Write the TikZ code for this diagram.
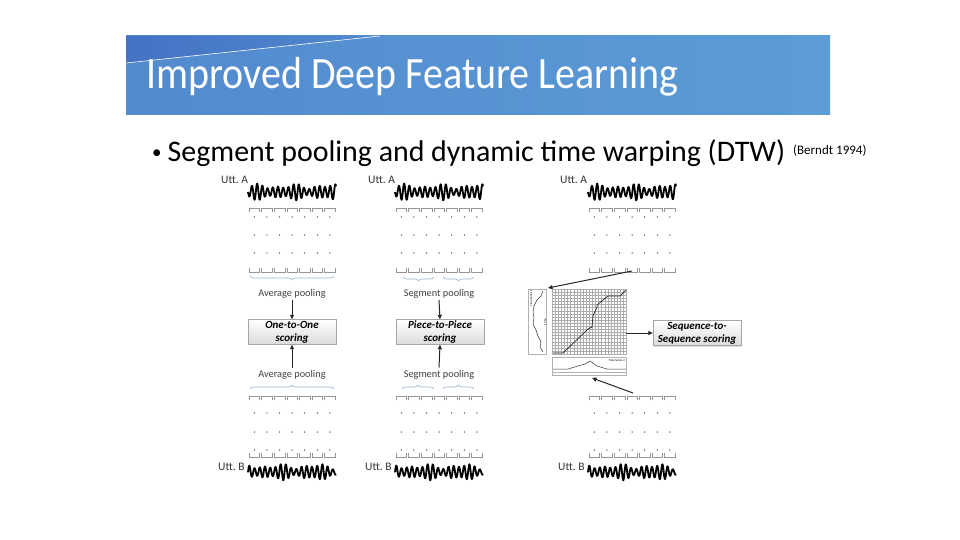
\documentclass[tikz,border=0pt]{standalone}
\usepackage{fontspec}
\setmainfont{Carlito}
\usetikzlibrary{arrows.meta,positioning,calc,decorations.pathreplacing,shadows}
\definecolor{bannerdark}{RGB}{68,114,196}
\definecolor{bannermid}{RGB}{82,138,206}
\definecolor{bannerblue}{RGB}{92,156,214}
\definecolor{bracecol}{RGB}{150,178,205}
\definecolor{framecol}{RGB}{150,150,150}
\frenchspacing

\begin{document}
\begin{tikzpicture}[x=1pt, y=-1pt, every node/.style={inner sep=0pt},
  declare function={wv(\t)=(2.5+3*(sin(5*\t+40))^2+3*(sin(9*\t+10))^2)*sin(69*\t);}]
\tikzset{scorebox/.style={draw=gray!70, top color=white, bottom color=gray!28, minimum width=88pt, minimum height=25pt, align=center, font=\fontsize{11}{13}\selectfont\bfseries\itshape}}
\tikzset{lbl/.style={font=\fontsize{10.3}{11}\selectfont, text=black!75}}
\tikzset{utt/.style={font=\fontsize{11.5}{12}\selectfont, text=black!80, anchor=base west}}
\tikzset{frm/.style={draw=framecol, line width=0.6pt}}
\tikzset{brc/.style={draw=bracecol, line width=0.6pt, decorate, decoration={brace, amplitude=4pt}}}
\tikzset{arr/.style={-{Triangle[length=4.5pt,width=4pt]}, line width=1pt, black!85}}
\tikzset{wav/.style={line width=1.8pt, line join=round}}
\tikzset{gridln/.style={draw=gray!65, line width=0.35pt}}
\useasboundingbox (0,0) rectangle (960,540);

% banner
\shade[left color=bannermid, right color=bannerblue] (126,36) rectangle (830,115);
\shade[left color=bannerdark, right color=bannermid] (126,36) -- (380,36) -- (126,63) -- cycle;
\draw[white, line width=0.6pt] (126,63) -- (380,36);
\node[anchor=base west, text=white, font=\fontsize{40}{44}\selectfont] (title) at (146,89) {\scalebox{1}[1.12]{Improved Deep Feature Learning}};

% bullet line
\node[anchor=base west, font=\fontsize{29.9}{32}\selectfont] (bullet) at (152,161) {\raisebox{2.5pt}{\fontsize{19}{19}\selectfont •}\hspace{6pt}Segment pooling and dynamic time warping (DTW)};
\node[anchor=base west, font=\fontsize{13}{14}\selectfont] (cite) at (793,155) {(Berndt 1994)};

% utterances, frames and dots
\foreach \cx/\ax/\bx [count=\k] in {248/221/218, 395/368/365, 588/560/558}{
  \node[utt] (uttA\k) at (\ax,183) {Utt. A};
  \node[utt] (uttB\k) at (\bx,470) {Utt. B};
  \draw[wav] plot[domain=0:88, samples=260, smooth] ({\cx+\x}, {192+wv(\x)});
  \draw[wav] plot[domain=0:88, samples=260, smooth] ({\cx+\x}, {472+wv(\x+13)});
  \foreach \i in {0,...,6}{
    \pgfmathsetmacro{\sx}{\cx+\i*12.6+1}
    \draw[frm] (\sx,212) -- (\sx,208) -- ++(10.6,0) -- ++(0,4);
    \draw[frm] (\sx,268) -- (\sx,272) -- ++(10.6,0) -- ++(0,-4);
    \draw[frm] (\sx,400) -- (\sx,396) -- ++(10.6,0) -- ++(0,4);
    \draw[frm] (\sx,453) -- (\sx,457) -- ++(10.6,0) -- ++(0,-4);
    \foreach \dy in {217,235,253,413,432,450}
      \fill[black!70] (\sx+5.3,\dy) circle (0.75pt);
  }
}

% column 1: average pooling
\draw[brc] (334,276) -- (250,276);
\draw[brc] (250,389) -- (334,389);
\node[lbl, anchor=base] (avgtop) at (292,296) {Average pooling};
\node[lbl, anchor=base] (avgbot) at (292,377) {Average pooling};
\node[scorebox] (one) at (292,332) {One-to-One\\scoring};
\draw[arr] (avgtop.south) ++(0,2) -- (one.north);
\draw[arr] (avgbot.north) ++(0,-2) -- (one.south);

% column 2: segment pooling
\draw[brc] (434,277) -- (403,277);
\draw[brc] (474,277) -- (443,277);
\draw[brc] (402,389) -- (434,389);
\draw[brc] (443,389) -- (474,389);
\node[lbl, anchor=base] (segtop) at (439,296) {Segment pooling};
\node[lbl, anchor=base] (segbot) at (439,377) {Segment pooling};
\node[scorebox] (piece) at (440,332) {Piece-to-Piece\\scoring};
\draw[arr] (segtop.south) ++(0,2) -- (piece.north);
\draw[arr] (segbot.north) ++(0,-2) -- (piece.south);

% column 3: DTW
\node[draw=gray!60, minimum width=74pt, minimum height=65pt] (grid) at (589,321.5) {};
\foreach \gx in {1,...,23}
  \draw[gridln] ({552+\gx*3.1},289) -- ++(0,65);
\foreach \gy in {1,...,20}
  \draw[gridln] (552,{289+\gy*3.1}) -- ++(74,0);
\draw[black!85, line width=0.7pt] (553,353) -- (563,353) -- (588,329) -- (592,327) -- (593,316)
  -- (597,307) -- (597,305) -- (608,296) -- (620,296) -- (626,290);
\node[draw=gray!60, fill=white, minimum width=18pt, minimum height=65pt] (left) at (537,321.5) {};
\draw[black!80, line width=0.5pt] (543,291) -- (541,296) -- (537,300) -- (534,306) -- (533,312) -- (534,318)
  -- (533,324) -- (536,330) -- (538,336) -- (541,342) -- (540,347) -- (543,352);
\node[rotate=90, font=\fontsize{3}{3}\selectfont, anchor=east] (ts1) at (531,290) {Time Series 1};
\node[rotate=90, font=\fontsize{3}{3}\selectfont] (tl) at (545,322) {Time};
\node[draw=gray!60, fill=white, minimum width=74pt, minimum height=18pt] (bottom) at (589,366) {};
\draw[black!80, line width=0.5pt] (553,369) -- (568,369) -- (578,366) -- (585,364) -- (590,361)
  -- (597,366) -- (607,369) -- (626,369);
\draw[gray!60, line width=0.3pt] (553,372) -- (626,372);
\node[font=\fontsize{3}{3}\selectfont, anchor=north east] (ts2) at (625,359) {Time Series 2};
\coordinate (fa) at (632,271);
\coordinate (fb) at (633,393);
\coordinate (dtwin) at (548,288);
\coordinate (dtwlow) at (592,378);
\draw[arr] (fa) -- (dtwin);
\draw[arr] (fb) -- (dtwlow);
\node[scorebox, drop shadow={opacity=0.25, shadow xshift=1pt, shadow yshift=-1pt}] (seq) at (697,333) {Sequence-to-\\Sequence scoring};
\draw[arr] (grid.east |- seq.west) -- (seq.west);
\end{tikzpicture}
\end{document}
